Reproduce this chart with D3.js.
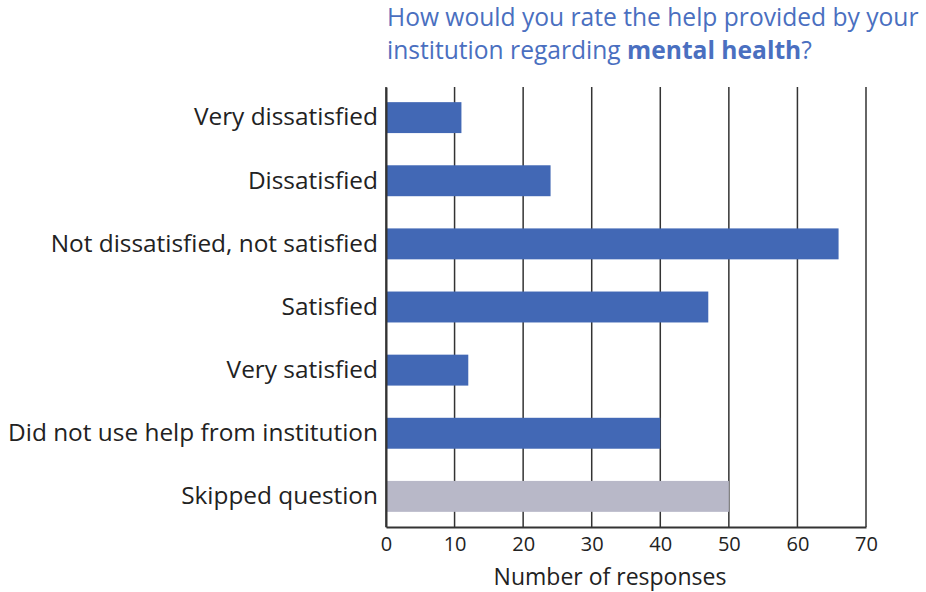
<!DOCTYPE html>
<html>
<head>
<meta charset="utf-8">
<script src="https://cdn.jsdelivr.net/npm/d3@7"></script>
<style>
  body { margin: 0; background: #fff; }
  text { font-family: "Open Sans", "Noto Sans", sans-serif; }
</style>
</head>
<body>
<svg id="chart" width="926" height="592"></svg>
<script>
  // chart data
  let categories = ["Very dissatisfied", "Dissatisfied", "Not dissatisfied, not satisfied",
    "Satisfied", "Very satisfied", "Did not use help from institution", "Skipped question"];
  let responses = [11, 24, 66, 47, 12, 40, 50];
  let barColors = ["#4268b5", "#4268b5", "#4268b5", "#4268b5", "#4268b5", "#4268b5", "#b8b8c8"];
  let xTicks = [0, 10, 20, 30, 40, 50, 60, 70];

  let margin = {top: 87, right: 60, bottom: 65, left: 386};
  let width = 926 - margin.left - margin.right;
  let height = 592 - margin.top - margin.bottom;

  let svg = d3.select("#chart");
  let g = svg.append("g")
    .attr("transform", "translate(" + margin.left + "," + margin.top + ")");

  let x = d3.scaleLinear().domain([0, 70]).range([0, width]);
  let y = d3.scaleBand().domain(categories).range([0, height]).paddingInner(0.51).paddingOuter(0.24);

  //vertical grid lines
  g.selectAll(".grid")
    .data(xTicks)
    .enter()
    .append("line")
      .attr("class", "grid")
      .attr("x1", function(d) { return x(d); })
      .attr("x2", function(d) { return x(d); })
      .attr("y1", 0)
      .attr("y2", height)
      .attr("stroke", "#333")
      .attr("stroke-width", 1.5);

  //bars
  g.selectAll(".bar")
    .data(categories)
    .enter()
    .append("rect")
      .attr("class", "bar")
      .attr("x", x(0) + 1)
      .attr("y", function(d) { return y(d); })
      .attr("width", function(d, i) { return x(responses[i]) - x(0) - 1; })
      .attr("height", y.bandwidth())
      .attr("fill", function(d, i) { return barColors[i]; });

  //bottom axis
  let xAxis = g.append("g")
    .attr("transform", "translate(0," + height + ")")
    .call(d3.axisBottom(x).tickValues(xTicks).tickSize(0).tickPadding(10));
  xAxis.select(".domain").attr("stroke", "#333").attr("stroke-width", 2);
  xAxis.selectAll("text").attr("font-size", 20).attr("fill", "#222")
    .style("font-family", "'Open Sans', sans-serif");

  //left axis labels
  let yAxis = g.append("g")
    .call(d3.axisLeft(y).tickSize(0).tickPadding(8));
  yAxis.select(".domain").attr("stroke", "#333").attr("stroke-width", 2);
  yAxis.selectAll("text").attr("font-size", 24.4).attr("fill", "#222")
    .style("font-family", "'Open Sans', sans-serif");

  //axis title
  svg.append("text")
    .attr("x", 610)
    .attr("y", 585)
    .attr("text-anchor", "middle")
    .attr("font-size", 23)
    .attr("fill", "#222")
    .text("Number of responses");

  //chart title, two lines
  let title = svg.append("text")
    .attr("x", 387)
    .attr("y", 26)
    .attr("font-size", 24.6)
    .attr("fill", "#4a6fc0");
  title.append("tspan").text("How would you rate the help provided by your");
  let line2 = svg.append("text")
    .attr("x", 387)
    .attr("y", 59)
    .attr("font-size", 24.6)
    .attr("fill", "#4a6fc0");
  line2.append("tspan").text("institution regarding ");
  line2.append("tspan").attr("font-weight", "bold").text("mental health");
  line2.append("tspan").text("?");
</script>
</body>
</html>
